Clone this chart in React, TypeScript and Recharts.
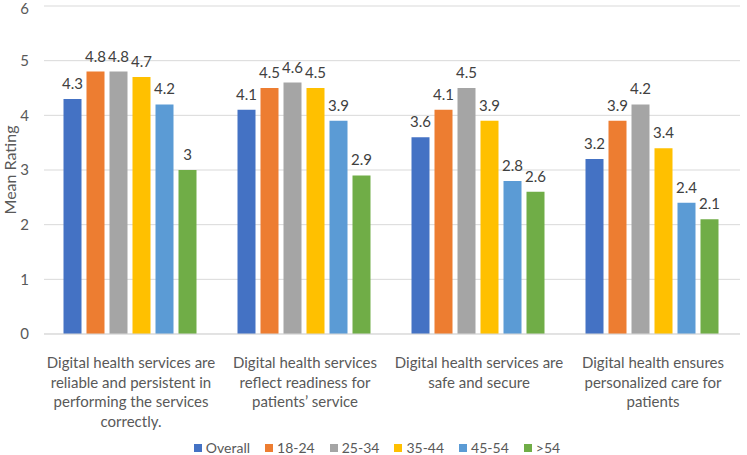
import React from 'react';
import { BarChart, Bar, XAxis, YAxis, CartesianGrid, Legend, LabelList } from 'recharts';

const categories = [
  'Digital health services are\nreliable and persistent in\nperforming the services\ncorrectly.',
  'Digital health services\nreflect readiness for\npatients\u2019 service',
  'Digital health services are\nsafe and secure',
  'Digital health ensures\npersonalized care for\npatients',
];
const seriesNames = ['Overall', '18-24', '25-34', '35-44', '45-54', '>54'];
const overall = [4.3, 4.1, 3.6, 3.2];
const age18_24 = [4.8, 4.5, 4.1, 3.9];
const age25_34 = [4.8, 4.6, 4.5, 4.2];
const age35_44 = [4.7, 4.5, 3.9, 3.4];
const age45_54 = [4.2, 3.9, 2.8, 2.4];
const age55plus = [3, 2.9, 2.6, 2.1];
const yTicks = [0, 1, 2, 3, 4, 5, 6];
const colors = ['#4472C4', '#ED7D31', '#A5A5A5', '#FFC000', '#5B9BD5', '#70AD47'];

const seriesValues = [overall, age18_24, age25_34, age35_44, age45_54, age55plus];
const data = categories.map((c, i) => {
  const row: Record<string, string | number> = { category: c };
  seriesNames.forEach((s, k) => {
    row[s] = seriesValues[k][i];
  });
  return row;
});

const FONT = 'Lato, Carlito, Calibri, sans-serif';

const XTick = (props: any) => {
  const { x, y, payload } = props;
  const lines = String(payload.value).split('\n');
  return (
    <g>
      {lines.map((l: string, i: number) => (
        <text
          key={i}
          x={x}
          y={y + 26 + i * 19.5}
          textAnchor="middle"
          fill="#595959"
          fontSize={15}
          fontFamily={FONT}
        >
          {l}
        </text>
      ))}
    </g>
  );
};

const YLabel = (props: any) => {
  const vb = props.viewBox || {};
  const cx = 9;
  const cy = vb.y + vb.height / 2;
  return (
    <text
      x={cx}
      y={cy}
      transform={`rotate(-90, ${cx}, ${cy})`}
      textAnchor="middle"
      dominantBaseline="central"
      fill="#595959"
      fontSize={16}
      fontFamily={FONT}
    >
      Mean Rating
    </text>
  );
};

const LegendContent = () => (
  <div
    style={{
      height: 26,
      boxSizing: 'border-box',
      paddingTop: 12,
      paddingLeft: 14,
      display: 'flex',
      justifyContent: 'center',
      alignItems: 'center',
      fontFamily: FONT,
      fontSize: 14,
      lineHeight: '14px',
      color: '#595959',
    }}
  >
    {seriesNames.map((s, i) => (
      <div key={s} style={{ display: 'flex', alignItems: 'center', marginRight: i < seriesNames.length - 1 ? 15 : 0 }}>
        <span style={{ width: 8, height: 8, background: colors[i], display: 'inline-block', marginRight: 4 }} />
        <span>{s}</span>
      </div>
    ))}
  </div>
);

export default function App() {
  return (
    <div style={{ position: 'absolute', left: 0, top: 0, width: 747, height: 455, background: '#fff' }}>
      <BarChart
        width={747}
        height={455}
        data={data}
        margin={{ top: 6, right: 7, bottom: 0, left: 0 }}
        barCategoryGap={19.5}
        barGap={5}
      >
        <CartesianGrid vertical={false} stroke="#D9D9D9" strokeWidth={1} />
        <XAxis
          dataKey="category"
          height={95}
          interval={0}
          tickLine={false}
          axisLine={{ stroke: '#D9D9D9', strokeWidth: 1 }}
          tick={<XTick />}
        />
        <YAxis
          width={44}
          domain={[0, 6]}
          ticks={yTicks}
          axisLine={false}
          tickLine={false}
          tickSize={0}
          tickMargin={15}
          tick={{ fill: '#595959', fontSize: 15, fontFamily: FONT }}
          label={<YLabel />}
        />
        <Legend verticalAlign="bottom" content={<LegendContent />} />
        {seriesNames.map((s, i) => (
          <Bar key={s} dataKey={s} fill={colors[i]} isAnimationActive={false}>
            <LabelList
              dataKey={s}
              position="top"
              offset={10}
              fill="#404040"
              fontSize={15}
              fontFamily={FONT}
            />
          </Bar>
        ))}
      </BarChart>
    </div>
  );
}
